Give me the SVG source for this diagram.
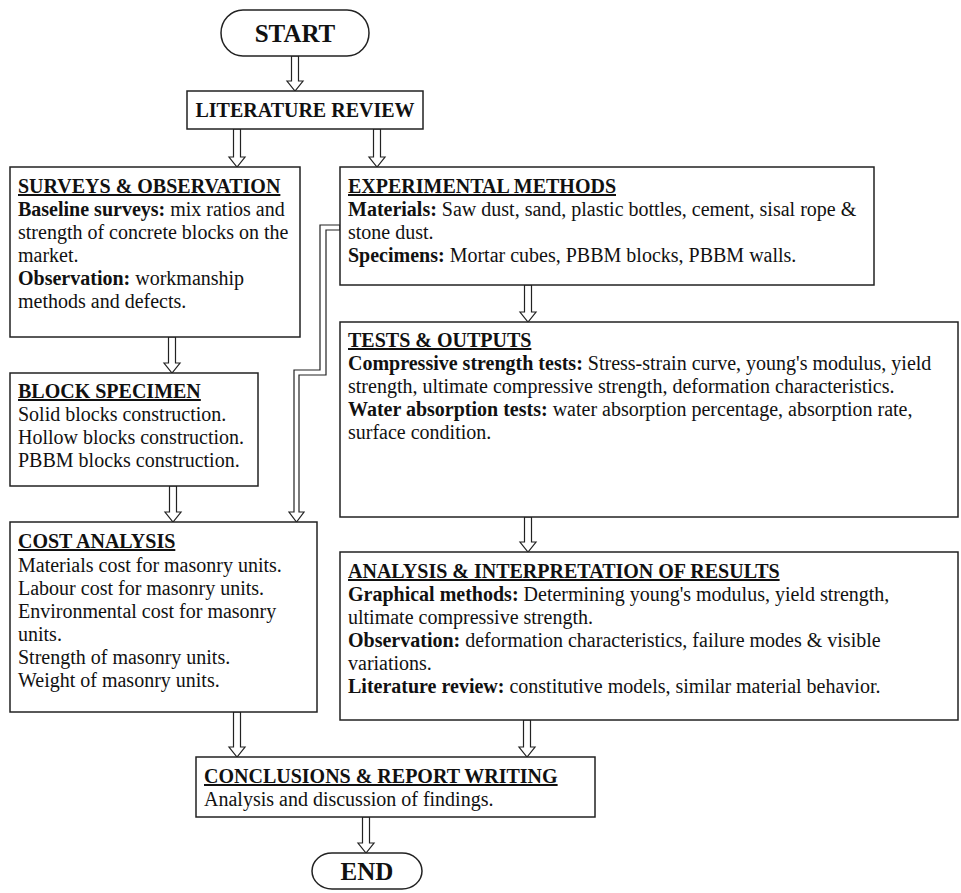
<svg xmlns="http://www.w3.org/2000/svg" width="961" height="893" viewBox="0 0 961 893">
<style>
.box{fill:#fff;stroke:#222;stroke-width:1.5}
.arr{fill:#fff;stroke:#222;stroke-width:1.2;stroke-linejoin:miter}
text{font-family:"Liberation Serif","Times New Roman",serif;font-size:20px;fill:#111}
.t{font-weight:bold;text-decoration:underline}
.b{font-weight:bold}
.term{font-weight:bold;font-size:25px}
</style>
<rect width="961" height="893" fill="#fff"/>
<g id="connectors">
<polygon class="arr" points="291.5,56 298.5,56 298.5,81 303,81 295,91 287,81 291.5,81"/>
<polygon class="arr" points="233.5,129 240.5,129 240.5,157 245,157 237,167 229,157 233.5,157"/>
<polygon class="arr" points="373.5,129 380.5,129 380.5,157 385,157 377,167 369,157 373.5,157"/>
<polygon class="arr" points="168.5,337 175.5,337 175.5,363 180,363 172,373 164,363 168.5,363"/>
<polygon class="arr" points="169.5,486 176.5,486 176.5,512 181,512 173,522 165,512 169.5,512"/>
<polygon class="arr" points="340,225 320,225 320,370 294,370 294,512 289,512 296.5,522 304,512 299,512 299,375 326,375 326,230 340,230"/>
<polygon class="arr" points="524.5,285 531.5,285 531.5,312 536,312 528,322 520,312 524.5,312"/>
<polygon class="arr" points="524.5,517 531.5,517 531.5,542 536,542 528,552 520,542 524.5,542"/>
<polygon class="arr" points="233.5,712 240.5,712 240.5,747 245,747 237,757 229,747 233.5,747"/>
<polygon class="arr" points="523.5,720 530.5,720 530.5,747 535,747 527,757 519,747 523.5,747"/>
<polygon class="arr" points="362.5,817 369.5,817 369.5,843 374,843 366,853 358,843 362.5,843"/>
</g>
<g id="start">
<rect class="box" x="221" y="10" width="148" height="46" rx="22" ry="23"/>
<text class="term" x="295" y="42" text-anchor="middle">START</text>
</g>
<g id="literature">
<rect class="box" x="187" y="91" width="236" height="38"/>
<text class="b" x="305" y="117" text-anchor="middle">LITERATURE REVIEW</text>
</g>
<g id="surveys">
<rect class="box" x="10" y="167" width="290" height="170"/>
<text class="t" x="18" y="193">SURVEYS &amp; OBSERVATION</text>
<text x="18" y="216"><tspan class="b">Baseline surveys:</tspan> mix ratios and</text>
<text x="18" y="239">strength of concrete blocks on the</text>
<text x="18" y="262">market.</text>
<text x="18" y="285"><tspan class="b">Observation:</tspan> workmanship</text>
<text x="18" y="308">methods and defects.</text>
</g>
<g id="block">
<rect class="box" x="10" y="373" width="248" height="113"/>
<text class="t" x="18" y="398">BLOCK SPECIMEN</text>
<text x="18" y="421">Solid blocks construction.</text>
<text x="18" y="444">Hollow blocks construction.</text>
<text x="18" y="467">PBBM blocks construction.</text>
</g>
<g id="cost">
<rect class="box" x="10" y="522" width="307" height="190"/>
<text class="t" x="18" y="548">COST ANALYSIS</text>
<text x="18" y="572">Materials cost for masonry units.</text>
<text x="18" y="595">Labour cost for masonry units.</text>
<text x="18" y="618">Environmental cost for masonry</text>
<text x="18" y="641">units.</text>
<text x="18" y="664">Strength of masonry units.</text>
<text x="18" y="687">Weight of masonry units.</text>
</g>
<g id="experimental">
<rect class="box" x="340" y="167" width="534" height="118"/>
<text class="t" x="348" y="193">EXPERIMENTAL METHODS</text>
<text x="348" y="216"><tspan class="b">Materials:</tspan> Saw dust, sand, plastic bottles, cement, sisal rope &amp;</text>
<text x="348" y="239">stone dust.</text>
<text x="348" y="262"><tspan class="b">Specimens:</tspan> Mortar cubes, PBBM blocks, PBBM walls.</text>
</g>
<g id="tests">
<rect class="box" x="340" y="322" width="618" height="195"/>
<text class="t" x="348" y="347">TESTS &amp; OUTPUTS</text>
<text x="348" y="370"><tspan class="b">Compressive strength tests:</tspan> Stress-strain curve, young's modulus, yield</text>
<text x="348" y="393">strength, ultimate compressive strength, deformation characteristics.</text>
<text x="348" y="416"><tspan class="b">Water absorption tests:</tspan> water absorption percentage, absorption rate,</text>
<text x="348" y="439">surface condition.</text>
</g>
<g id="analysis">
<rect class="box" x="340" y="552" width="618" height="168"/>
<text class="t" x="348" y="578">ANALYSIS &amp; INTERPRETATION OF RESULTS</text>
<text x="348" y="601"><tspan class="b">Graphical methods:</tspan> Determining young's modulus, yield strength,</text>
<text x="348" y="624">ultimate compressive strength.</text>
<text x="348" y="647"><tspan class="b">Observation:</tspan> deformation characteristics, failure modes &amp; visible</text>
<text x="348" y="670">variations.</text>
<text x="348" y="693"><tspan class="b">Literature review:</tspan> constitutive models, similar material behavior.</text>
</g>
<g id="conclusions">
<rect class="box" x="196" y="757" width="399" height="60"/>
<text class="t" x="204" y="783">CONCLUSIONS &amp; REPORT WRITING</text>
<text x="204" y="806">Analysis and discussion of findings.</text>
</g>
<g id="end">
<rect class="box" x="312" y="853" width="110" height="36" rx="20" ry="18"/>
<text class="term" x="367" y="880" text-anchor="middle">END</text>
</g>
</svg>
